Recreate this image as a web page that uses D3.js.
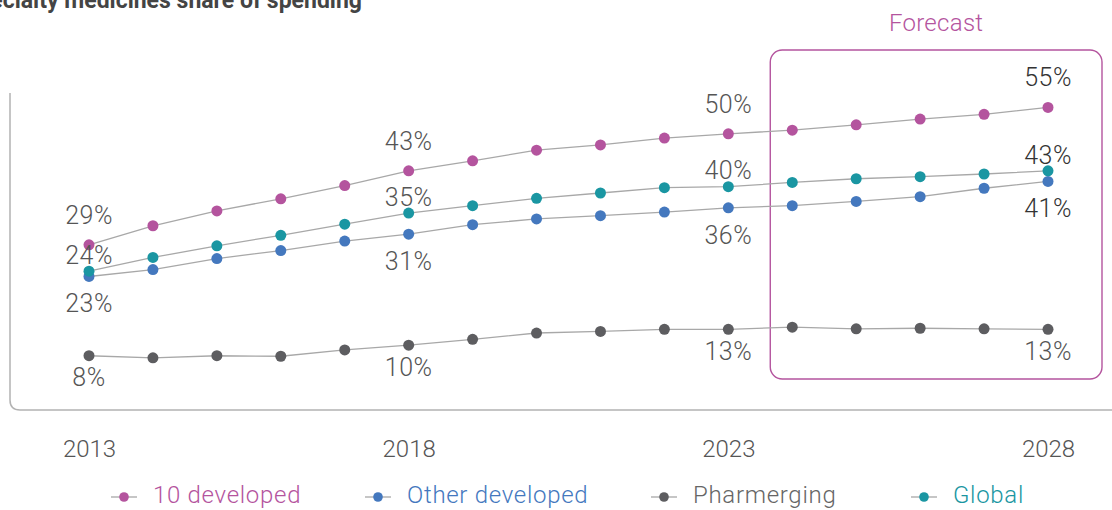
<!DOCTYPE html>
<html>
<head>
<meta charset="utf-8">
<script src="https://cdn.jsdelivr.net/npm/d3@7"></script>
<style>
  html, body { margin: 0; padding: 0; background: #fff; overflow: hidden; }
  svg { display: block; font-family: Roboto, "Open Sans", sans-serif; }
</style>
</head>
<body>
<svg id="chart" width="1112" height="510"></svg>
<script>
// Share of spending on specialty medicines, by market group (%)
const years = [2013, 2014, 2015, 2016, 2017, 2018, 2019, 2020, 2021, 2022, 2023, 2024, 2025, 2026, 2027, 2028];
const tenDeveloped   = [29, 32.6, 35.4, 37.7, 40.2, 43, 44.9, 46.9, 47.9, 49.2, 50, 50.7, 51.7, 52.8, 53.7, 55];
const otherDeveloped = [23, 24.3, 26.4, 27.9, 29.7, 31, 32.8, 33.9, 34.5, 35.2, 36, 36.4, 37.2, 38.1, 39.7, 41];
const pharmerging    = [8, 7.6, 8.0, 7.9, 9.1, 10, 11.1, 12.3, 12.6, 13.0, 13, 13.4, 13.1, 13.2, 13.1, 13];
const globalShare    = [24, 26.6, 28.8, 30.8, 32.9, 35, 36.4, 37.8, 38.8, 39.8, 40, 40.8, 41.5, 41.9, 42.4, 43];
const tickYears = [2013, 2018, 2023, 2028];
const labelYears = [2013, 2018, 2023, 2028];
const seriesNames = ["10 developed", "Other developed", "Pharmerging", "Global"];
const titleText = "Specialty medicines share of spending";
const forecastText = "Forecast";

const colors = {
  "10 developed": "#b4549e",
  "Other developed": "#4478be",
  "Pharmerging": "#5d5d60",
  "Global": "#1a96a2"
};
const legendTextColors = {
  "10 developed": "#b4549e",
  "Other developed": "#4478be",
  "Pharmerging": "#666666",
  "Global": "#1a96a2"
};

// label offset (px from the point centre) per series
const series = [
  { name: "10 developed", values: tenDeveloped, labelDy: -30 },
  { name: "Other developed", values: otherDeveloped, labelDy: 27 },
  { name: "Pharmerging", values: pharmerging, labelDy: 22 },
  { name: "Global", values: globalShare, labelDy: -16 }
];

const svg = d3.select("#chart");

const x = d3.scaleLinear().domain([2013, 2028]).range([89, 1048]);
const y = d3.scaleLinear().domain([0, 60]).range([398, 81]);

// Title (runs off the top-left edge)
svg.append("text")
  .attr("x", 362).attr("y", 8)
  .attr("text-anchor", "end")
  .attr("font-size", 23).attr("font-weight", 700)
  .attr("fill", "#444")
  .text(titleText);

// Plot frame: left and bottom rule joined by a rounded corner
svg.append("path")
  .attr("d", "M10,93 V400 Q10,410 20,410 H1112")
  .attr("fill", "none").attr("stroke", "#b3b3b3").attr("stroke-width", 1.5);

// Forecast panel
const fx0 = x(2024) - 22, fx1 = x(2028) + 54;
svg.append("rect")
  .attr("x", fx0).attr("y", 50)
  .attr("width", fx1 - fx0).attr("height", 329)
  .attr("rx", 12).attr("ry", 12)
  .attr("fill", "none").attr("stroke", colors["10 developed"]).attr("stroke-width", 1.4);
svg.append("text")
  .attr("x", (fx0 + fx1) / 2).attr("y", 31)
  .attr("text-anchor", "middle")
  .attr("font-size", 24).attr("font-weight", 300)
  .attr("letter-spacing", 0.3)
  .attr("fill", colors["10 developed"])
  .text(forecastText);

// X axis labels
const xAxis = d3.axisBottom(x).tickValues(tickYears).tickFormat(d3.format("d")).tickSize(0).tickPadding(0);
const gx = svg.append("g").attr("transform", "translate(0,440)").call(xAxis);
gx.select(".domain").remove();
gx.selectAll("text")
  .attr("font-size", 24).attr("font-weight", 300)
  .attr("font-family", "Roboto, sans-serif")
  .attr("fill", "#555");

// Lines
const line = d3.line().x((d, i) => x(years[i])).y(d => y(d));
const drawOrder = ["Pharmerging", "Other developed", "Global", "10 developed"];
const ordered = drawOrder.map(n => series.find(s => s.name === n));

svg.append("g").selectAll("path")
  .data(ordered).join("path")
  .attr("d", s => line(s.values))
  .attr("fill", "none").attr("stroke", "#a8a8a8").attr("stroke-width", 1.3);

// Points
ordered.forEach(s => {
  svg.append("g").selectAll("circle")
    .data(s.values).join("circle")
    .attr("cx", (d, i) => x(years[i]))
    .attr("cy", d => y(d))
    .attr("r", 5.5)
    .attr("fill", colors[s.name]);
});

// Value labels
const pct = d3.format(".0f");
series.forEach(s => {
  labelYears.forEach(yr => {
    const i = years.indexOf(yr);
    const v = s.values[i];
    const inForecast = yr === 2028 && s.name !== "Pharmerging";
    svg.append("text")
      .attr("x", x(yr))
      .attr("y", y(v) + s.labelDy)
      .attr("dy", "0.35em")
      .attr("text-anchor", "middle")
      .attr("font-size", 25).attr("font-weight", 300)
      .attr("letter-spacing", 0.5)
      .attr("fill", inForecast ? "#333" : "#555")
      .text(pct(v) + "%");
  });
});

// Legend
const legendX = [124, 378, 664, 924];
const legend = svg.append("g").attr("transform", "translate(0,497)");
seriesNames.forEach((name, k) => {
  const g = legend.append("g").attr("transform", `translate(${legendX[k]},0)`);
  g.append("line").attr("x1", -13).attr("x2", 13).attr("y1", 0).attr("y2", 0)
    .attr("stroke", "#a8a8a8").attr("stroke-width", 1.3);
  g.append("circle").attr("r", 4.8).attr("fill", colors[name]);
  g.append("text")
    .attr("x", 29).attr("y", 6)
    .attr("font-size", 24).attr("font-weight", 300)
    .attr("letter-spacing", 0.7)
    .attr("fill", legendTextColors[name])
    .text(name);
});
</script>
</body>
</html>
